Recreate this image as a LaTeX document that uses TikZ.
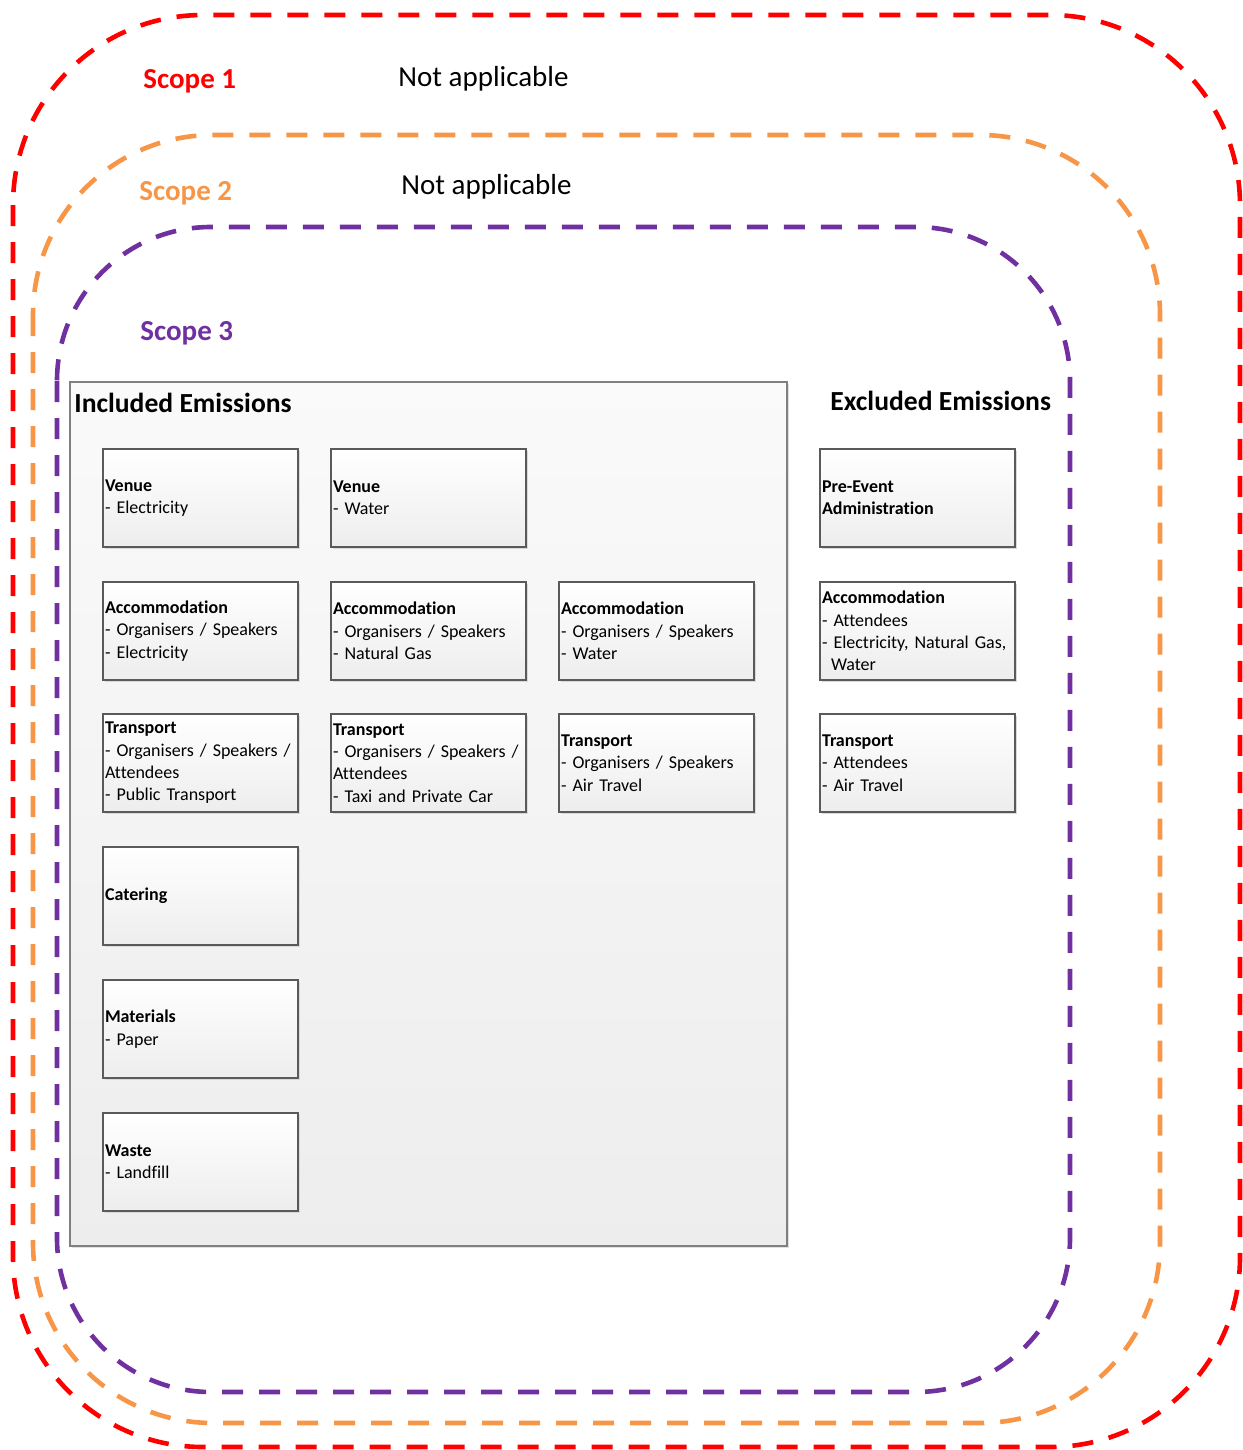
\documentclass[tikz,border=0pt]{standalone}
\usepackage{fontspec}
\setmainfont{Carlito}[Ligatures=CommonOff]
\usetikzlibrary{shadows}
\definecolor{scopered}{HTML}{FF0000}
\definecolor{scopeorange}{HTML}{F79646}
\definecolor{scopepurple}{HTML}{7030A0}
\definecolor{boxline}{HTML}{5A5A5A}
\definecolor{groupline}{HTML}{808080}
\tikzset{
  scopeline/.style={line width=2.3pt, dash pattern=on 10.5pt off 8pt, rounded corners=#1},
  scopelabel/.style={anchor=west, inner sep=0pt, font=\fontsize{14.5}{17}\selectfont\bfseries},
  plainlabel/.style={anchor=west, inner sep=0pt, font=\fontsize{14.5}{17}\selectfont},
  headlabel/.style={anchor=west, inner sep=0pt, font=\fontsize{13.8}{17}\selectfont\bfseries},
  groupbox/.style={draw=groupline, line width=1pt, top color=black!2, bottom color=black!7,
    drop shadow={shadow xshift=1pt, shadow yshift=-1pt, fill=black!12, opacity=1}},
  itembox/.style={draw=boxline, line width=0.75pt, top color=white, bottom color=black!7,
    minimum height=49pt, text width=95.5pt, inner xsep=1pt, inner ysep=0pt, align=left,
    font=\fontsize{9}{11.2}\selectfont,
    drop shadow={shadow xshift=1.2pt, shadow yshift=-1.2pt, fill=black!15, opacity=1}},
}
\begin{document}
\begin{tikzpicture}[x=0.5pt, y=-0.5pt]
\useasboundingbox (0,0) rectangle (1242,1450);
% scope borders
\draw[scopeline=95pt, draw=scopered] (13,15) rectangle (1240,1447);
\draw[scopeline=90pt, draw=scopeorange] (33,135) rectangle (1160,1423);
\draw[scopeline=77pt, draw=scopepurple] (57,227) rectangle (1070,1392);
% scope labels
\node[scopelabel, text=scopered] (s1) at (143,81) {Scope 1};
\node[plainlabel] (na1) at (398,79) {Not applicable};
\node[scopelabel, text=scopeorange] (s2) at (139,193) {Scope 2};
\node[plainlabel] (na2) at (401,187) {Not applicable};
\node[scopelabel, text=scopepurple] (s3) at (140,333) {Scope 3};
% included group
\node[groupbox, minimum width=358.5pt, minimum height=432pt, inner sep=0pt] (included) at (428.5,814) {};
\node[headlabel] (inctitle) at (74,403) {Included Emissions};
\node[headlabel] (exctitle) at (830,401) {Excluded Emissions};
% included items
\node[itembox] (venueE) at (200.5,498) {\textbf{Venue}\\- Electricity};
\node[itembox] (venueW) at (428.5,498) {\textbf{Venue}\\- Water};
\node[itembox] (accE) at (200.5,631) {\textbf{Accommodation}\\- Organisers / Speakers\\- Electricity};
\node[itembox] (accG) at (428.5,631) {\textbf{Accommodation}\\- Organisers / Speakers\\- Natural Gas};
\node[itembox] (accW) at (656.5,631) {\textbf{Accommodation}\\- Organisers / Speakers\\- Water};
\node[itembox] (trP) at (200.5,763) {\textbf{Transport}\\- Organisers / Speakers /\\Attendees\\- Public Transport};
\node[itembox] (trT) at (428.5,763) {\textbf{Transport}\\- Organisers / Speakers /\\Attendees\\- Taxi and Private Car};
\node[itembox] (trA) at (656.5,763) {\textbf{Transport}\\- Organisers / Speakers\\- Air Travel};
\node[itembox] (cat) at (200.5,896) {\textbf{Catering}};
\node[itembox] (mat) at (200.5,1029) {\textbf{Materials}\\- Paper};
\node[itembox] (waste) at (200.5,1162) {\textbf{Waste}\\- Landfill};
% excluded items
\node[itembox] (preev) at (917.5,498) {\textbf{Pre-Event}\\\textbf{Administration}};
\node[itembox] (accX) at (917.5,631) {\textbf{Accommodation}\\- Attendees\\- Electricity, Natural Gas,\\\hspace*{0.5em}Water};
\node[itembox] (trX) at (917.5,763) {\textbf{Transport}\\- Attendees\\- Air Travel};
\end{tikzpicture}
\end{document}
